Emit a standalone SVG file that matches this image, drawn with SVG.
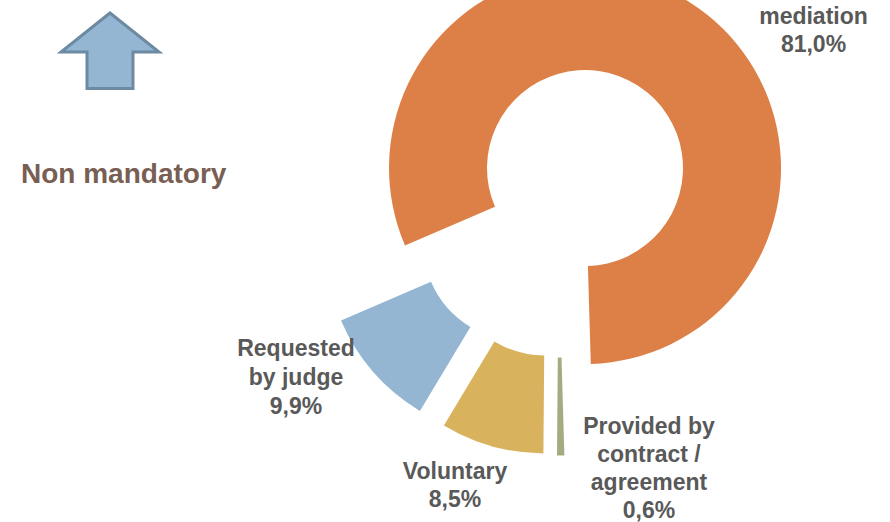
<svg xmlns="http://www.w3.org/2000/svg" width="890" height="522" viewBox="0 0 890 522">
  <style>
    .lbl { font-family: "Liberation Sans", Arial, sans-serif; font-weight: bold; font-size: 23px; fill: #595959; text-anchor: middle; }
    .title { font-family: "Liberation Sans", Arial, sans-serif; font-weight: bold; font-size: 28px; fill: #785E53; }
  </style>
  <rect width="890" height="522" fill="#FFFFFF"/>
  <g id="arrow">
    <polygon points="110,13 159,52 133,52 133,88.5 87,88.5 87,52 61,52" fill="#94B6D2" stroke="#6C8AA2" stroke-width="3" stroke-linejoin="miter"/>
  </g>
  <g id="title">
    <text class="title" x="21" y="183">Non mandatory</text>
  </g>
  <g id="slice-mediation">
    <path d="M 405,245.5 A 196 196 0 1 1 590.8,363.9 L 587.9,266 A 98 98 0 1 0 495,206.8 Z" fill="#DD8047"/>
    <text class="lbl" x="813.5" y="24">mediation</text>
    <text class="lbl" x="813.5" y="52">81,0%</text>
  </g>
  <g id="slice-judge">
    <path d="M 419.9,410.9 A 196 196 0 0 1 341.0,320.5 L 431.0,281.8 A 98 98 0 0 0 470.4,327.0 Z" fill="#94B6D2"/>
    <text class="lbl" x="296" y="356">Requested</text>
    <text class="lbl" x="296" y="385">by judge</text>
    <text class="lbl" x="296" y="414">9,9%</text>
  </g>
  <g id="slice-voluntary">
    <path d="M 543.4,453.5 A 196 196 0 0 1 443.9,425.4 L 494.4,341.5 A 98 98 0 0 0 544.2,355.5 Z" fill="#D8B25C"/>
    <text class="lbl" x="455" y="479">Voluntary</text>
    <text class="lbl" x="455" y="507">8,5%</text>
  </g>
  <g id="slice-contract">
    <path d="M 564.4,455.4 A 196 196 0 0 1 557.0,455.5 L 557.8,357.5 A 98 98 0 0 0 561.5,357.5 Z" fill="#A5AB81"/>
    <text class="lbl" x="649" y="434">Provided by</text>
    <text class="lbl" x="649" y="462">contract /</text>
    <text class="lbl" x="649" y="490">agreement</text>
    <text class="lbl" x="649" y="518">0,6%</text>
  </g>
</svg>
